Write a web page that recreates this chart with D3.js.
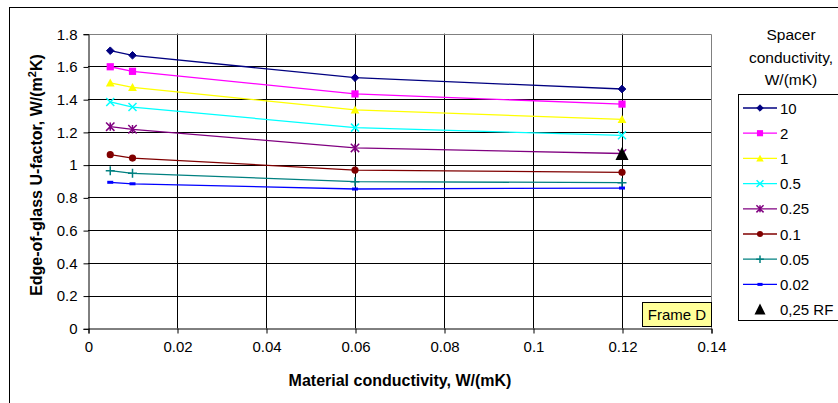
<!DOCTYPE html>
<html><head><meta charset="utf-8">
<script src="https://cdn.jsdelivr.net/npm/d3@7"></script>
<style>html,body{margin:0;padding:0;background:#fff;}svg{display:block;}</style>
</head><body>
<script>
const xValues = [0.005, 0.01, 0.06, 0.12];
const seriesNames = ["10", "2", "1", "0.5", "0.25", "0.1", "0.05", "0.02"];
const s10   = [1.696, 1.668, 1.531, 1.462];
const s2    = [1.598, 1.570, 1.432, 1.370];
const s1    = [1.500, 1.472, 1.334, 1.277];
const s05   = [1.383, 1.352, 1.226, 1.179];
const s025  = [1.232, 1.216, 1.102, 1.068];
const s01   = [1.061, 1.040, 0.967, 0.953];
const s005  = [0.963, 0.947, 0.896, 0.890];
const s002  = [0.892, 0.883, 0.851, 0.857];
const rfName = "0,25 RF";
const rfX = [0.12];
const rfY = [1.065];
const xTicks = [0, 0.02, 0.04, 0.06, 0.08, 0.1, 0.12, 0.14];
const yTicks = [0, 0.2, 0.4, 0.6, 0.8, 1, 1.2, 1.4, 1.6, 1.8];
const legendTitle = ["Spacer", "conductivity,", "W/(mK)"];
const xTitle = "Material conductivity, W/(mK)";
const frameLabel = "Frame D";

const allSeries = [s10, s2, s1, s05, s025, s01, s005, s002];
const colors = ["#000080", "#ff00ff", "#ffff00", "#00ffff", "#800080", "#800000", "#008080", "#0000ff"];
const markers = ["diamond", "square", "triangle", "x", "star", "circle", "plus", "dash"];

const W = 838, H = 403;
const font = "'Liberation Sans', Arial, sans-serif";
const svg = d3.select("body").append("svg").attr("width", W).attr("height", H)
  .style("font-family", font);

// outer chart border
svg.append("rect").attr("x", 9.5).attr("y", 7.5).attr("width", 900).attr("height", 500)
  .attr("fill", "#fff").attr("stroke", "#000").attr("stroke-width", 1);

const x = d3.scaleLinear().domain([0, 0.14]).range([88, 711]);
const y = d3.scaleLinear().domain([0, 1.8]).range([328.3, 33.7]);

const g = svg.append("g");
g.append("rect").attr("x", x(0)).attr("y", y(1.8)).attr("width", x(0.14) - x(0)).attr("height", y(0) - y(1.8))
  .attr("fill", "#fff");
g.selectAll(".hg").data(yTicks.filter(d => d > 0 && d < 1.8)).join("line")
  .attr("x1", x(0)).attr("x2", x(0.14))
  .attr("y1", d => Math.round(y(d)) + 0.5).attr("y2", d => Math.round(y(d)) + 0.5)
  .attr("stroke", "#000").attr("stroke-width", 1);
g.selectAll(".vg").data(xTicks.filter(d => d > 0 && d < 0.14)).join("line")
  .attr("y1", y(1.8)).attr("y2", y(0))
  .attr("x1", d => Math.round(x(d)) + 0.5).attr("x2", d => Math.round(x(d)) + 0.5)
  .attr("stroke", "#000").attr("stroke-width", 1);
g.append("path").attr("d", `M${Math.round(x(0))+0.5},${Math.round(y(1.8))+0.5}H${Math.round(x(0.14))+0.5}V${Math.round(y(0))+0.5}`)
  .attr("fill", "none").attr("stroke", "#808080");

const xAxis = d3.axisBottom(x).tickValues(xTicks).tickSize(5).tickPadding(8)
  .tickFormat(d => String(+d.toFixed(2)));
const yAxis = d3.axisLeft(y).tickValues(yTicks).tickSize(5).tickPadding(6)
  .tickFormat(d => String(+d.toFixed(1)));
const gx = svg.append("g").attr("transform", `translate(0.5,${Math.round(y(0)) + 0.5})`).call(xAxis);
const gy = svg.append("g").attr("transform", `translate(${Math.round(x(0)) + 0.5},0.5)`).call(yAxis);
[gx, gy].forEach(a => {
  a.selectAll("path,line").attr("stroke", "#000");
  a.selectAll("text").attr("fill", "#000").style("font-size", "15px").style("font-family", font);
});

function drawMarker(sel, type, color, size) {
  const s = size;
  if (type === "diamond") sel.append("path").attr("d", `M0,${-s}L${s},0L0,${s}L${-s},0Z`).attr("fill", color).attr("stroke", color);
  else if (type === "square") sel.append("rect").attr("x", -s).attr("y", -s).attr("width", 2*s).attr("height", 2*s).attr("fill", color);
  else if (type === "triangle") sel.append("path").attr("d", `M0,${-s*1.1}L${s*1.1},${s*0.9}L${-s*1.1},${s*0.9}Z`).attr("fill", color);
  else if (type === "circle") sel.append("circle").attr("r", s).attr("fill", color);
  else if (type === "x") sel.append("path").attr("d", `M${-s},${-s}L${s},${s}M${-s},${s}L${s},${-s}`).attr("stroke", color).attr("stroke-width", 1.5);
  else if (type === "plus") sel.append("path").attr("d", `M${-s},0L${s},0M0,${-s}L0,${s}`).attr("stroke", color).attr("stroke-width", 1.5);
  else if (type === "star") sel.append("path").attr("d", `M${-s},${-s}L${s},${s}M${-s},${s}L${s},${-s}M0,${-s}L0,${s}`).attr("stroke", color).attr("stroke-width", 1.5);
  else if (type === "dash") sel.append("rect").attr("x", -s).attr("y", -1.5).attr("width", 2*s).attr("height", 3).attr("fill", color);
}
const msize = [3.8, 3.6, 4, 4, 4.2, 3.6, 4.5, 3];

const line = d3.line().x((d, i) => x(xValues[i])).y(d => y(d));
allSeries.forEach((vals, k) => {
  const sg = svg.append("g");
  sg.append("path").attr("d", line(vals)).attr("fill", "none").attr("stroke", colors[k]).attr("stroke-width", 1.3);
  vals.forEach((v, i) => {
    const m = sg.append("g").attr("transform", `translate(${x(xValues[i])},${y(v)})`);
    drawMarker(m, markers[k], colors[k], msize[k]);
  });
});
rfX.forEach((xv, i) => {
  const m = svg.append("g").attr("transform", `translate(${x(xv)},${y(rfY[i])})`);
  m.append("path").attr("d", "M0,-7L6.5,6L-6.5,6Z").attr("fill", "#000");
});

const fb = svg.append("g");
fb.append("rect").attr("x", 642.5).attr("y", 302.5).attr("width", 69).attr("height", 24)
  .attr("fill", "#ffff99").attr("stroke", "#000");
fb.append("text").attr("x", 677).attr("y", 319.5).attr("text-anchor", "middle")
  .style("font-size", "15px").text(frameLabel);

svg.append("text").attr("x", 400).attr("y", 386).attr("text-anchor", "middle")
  .style("font-size", "16px").style("font-weight", "bold").text(xTitle);
const yt = svg.append("text").attr("transform", "translate(42,175) rotate(-90)").attr("text-anchor", "middle")
  .style("font-size", "16px").style("font-weight", "bold");
yt.append("tspan").text("Edge-of-glass U-factor, W/(m");
yt.append("tspan").attr("dy", -6).style("font-size", "11px").text("2");
yt.append("tspan").attr("dy", 6).text("K)");

const lg = svg.append("g");
legendTitle.forEach((t, i) => {
  lg.append("text").attr("x", 791).attr("y", 40 + i * 22.5).attr("text-anchor", "middle")
    .style("font-size", "15.5px").text(t);
});
lg.append("rect").attr("x", 738.5).attr("y", 94.5).attr("width", 200).attr("height", 226)
  .attr("fill", "#fff").attr("stroke", "#000");
seriesNames.forEach((n, k) => {
  const yy = 108 + k * 25.2;
  lg.append("line").attr("x1", 743).attr("x2", 777).attr("y1", yy).attr("y2", yy)
    .attr("stroke", colors[k]).attr("stroke-width", 1.3);
  const m = lg.append("g").attr("transform", `translate(760,${yy})`);
  drawMarker(m, markers[k], colors[k], msize[k] * 0.85);
  lg.append("text").attr("x", 780).attr("y", yy + 5.5).style("font-size", "15px").text(n);
});
{
  const yy = 108 + 8 * 25.2;
  lg.append("path").attr("transform", `translate(760,${yy})`).attr("d", "M0,-6L5.5,5L-5.5,5Z").attr("fill", "#000");
  lg.append("text").attr("x", 780).attr("y", yy + 5.5).style("font-size", "15px").text(rfName);
}
</script>
</body></html>
